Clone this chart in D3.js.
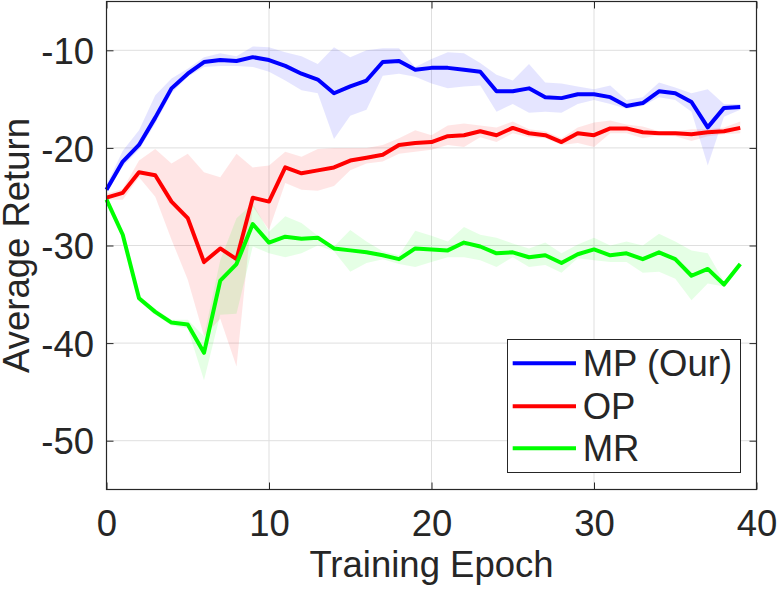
<!DOCTYPE html>
<html>
<head>
<meta charset="utf-8">
<script src="https://cdn.jsdelivr.net/npm/d3@7"></script>
<style>
  body { margin: 0; background: #fff; }
  svg { display: block; }
  text { font-family: "Liberation Sans", Arial, sans-serif; fill: #262626; }
</style>
</head>
<body>
<div id="chart"></div>
<script>
// epochs 0..39
var epochs = d3.range(0, 40);

var xTicks = [0, 10, 20, 30, 40];
var yTicks = [-50, -40, -30, -20, -10];
var seriesNames = ["MP (Our)", "OP", "MR"];

// MP (Our) - blue
var mpMean = [-24.3, -21.4, -19.7, -16.9, -13.9, -12.4, -11.2, -11.0, -11.1, -10.7,
              -11.0, -11.6, -12.4, -13.0, -14.4, -13.7, -13.1, -11.2, -11.1, -12.0,
              -11.8, -11.8, -12.0, -12.2, -14.2, -14.2, -13.9, -14.8, -14.9, -14.5,
              -14.5, -14.8, -15.7, -15.4, -14.2, -14.4, -15.3, -17.9, -15.9, -15.8];
var mpUpper = [-23.8, -20.3, -18.2, -14.6, -12.9, -11.9, -10.7, -10.3, -10.6, -9.6,
               -9.7, -10.2, -10.6, -11.4, -9.7, -10.7, -10.0, -9.8, -9.8, -11.7,
               -10.9, -10.2, -10.3, -11.3, -12.5, -13.1, -11.4, -13.3, -13.4, -13.7,
               -14.0, -13.6, -15.1, -14.8, -13.3, -13.8, -14.4, -14.0, -15.5, -15.5];
var mpLower = [-24.6, -21.9, -20.2, -17.5, -14.4, -12.7, -11.7, -11.6, -11.6, -11.7,
               -12.2, -13.1, -14.1, -14.4, -19.1, -16.7, -16.1, -12.6, -12.4, -12.7,
               -13.4, -13.9, -13.7, -13.6, -16.3, -15.5, -16.4, -16.3, -16.4, -15.5,
               -15.1, -15.5, -16.0, -15.7, -14.8, -15.1, -16.3, -21.8, -16.8, -16.1];

// OP - red
var opMean = [-25.1, -24.6, -22.5, -22.8, -25.5, -27.2, -31.7, -30.3, -31.4, -25.1,
              -25.5, -22.0, -22.6, -22.3, -22.0, -21.3, -21.0, -20.7, -19.7, -19.5,
              -19.4, -18.8, -18.7, -18.3, -18.7, -17.95, -18.5, -18.7, -19.4, -18.5,
              -18.7, -18.0, -18.0, -18.4, -18.5, -18.5, -18.6, -18.4, -18.3, -17.95];
var opUpper = [-24.7, -24.2, -21.3, -20.1, -21.6, -20.6, -22.5, -23.0, -20.6, -22.0,
               -21.8, -20.4, -20.9, -20.1, -20.0, -20.0, -20.0, -19.7, -19.0, -18.2,
               -18.7, -17.7, -17.5, -17.7, -17.9, -17.3, -18.1, -18.3, -19.0, -17.9,
               -17.4, -17.2, -17.6, -17.8, -18.3, -18.3, -18.1, -18.1, -17.9, -17.3];
var opLower = [-25.3, -25.3, -23.0, -25.0, -29.4, -33.5, -39.3, -37.5, -42.4, -26.0,
               -28.4, -23.6, -24.3, -24.4, -23.9, -22.3, -21.6, -21.4, -20.6, -20.4,
               -20.2, -19.7, -19.9, -18.9, -19.4, -18.5, -18.9, -19.0, -19.7, -19.5,
               -19.9, -18.5, -18.5, -19.0, -18.7, -18.8, -19.3, -18.8, -18.6, -18.5];

// MR - green
var mrMean = [-25.3, -28.9, -35.4, -36.8, -37.9, -38.1, -41.0, -33.6, -31.9, -27.8,
              -29.7, -29.1, -29.3, -29.2, -30.3, -30.5, -30.7, -31.0, -31.4, -30.3,
              -30.4, -30.5, -29.7, -30.1, -30.8, -30.7, -31.2, -31.0, -31.8, -30.9,
              -30.4, -31.0, -30.8, -31.4, -30.7, -31.4, -33.1, -32.4, -34.0, -31.9];
var mrUpper = [-25.2, -28.7, -35.1, -36.5, -37.6, -37.6, -39.3, -31.5, -27.2, -25.7,
               -28.6, -27.0, -27.7, -29.0, -30.1, -28.4, -29.6, -30.6, -31.0, -28.5,
               -29.0, -29.6, -28.1, -28.9, -29.2, -29.8, -30.3, -29.7, -30.8, -29.9,
               -29.2, -30.0, -29.6, -30.0, -28.8, -29.6, -30.5, -30.8, -33.7, -31.7];
var mrLower = [-25.4, -29.1, -35.7, -37.1, -38.2, -38.5, -43.8, -37.1, -37.0, -30.1,
               -30.8, -31.2, -30.8, -30.0, -30.6, -32.7, -31.8, -31.4, -31.9, -32.2,
               -31.7, -31.2, -31.2, -31.5, -32.2, -31.2, -32.2, -32.0, -32.8, -31.3,
               -31.5, -31.7, -31.7, -32.8, -32.7, -33.4, -35.6, -33.9, -34.2, -32.1];

var W = 779, H = 589;
var padL = 106.5, padR = 756.5, padT = 1.5, padB = 489.5;
var fontPx = "36.5px";

var svg = d3.select("#chart").append("svg").attr("width", W).attr("height", H);

var x = d3.scaleLinear().domain([0, 40]).range([padL, padR]);
var y = d3.scaleLinear().domain([-55, -5]).range([padB, padT]);

// grid
var grid = svg.append("g").attr("stroke", "#dfdfdf").attr("stroke-width", 1);
xTicks.slice(1, -1).forEach(function(t) {
    grid.append("line").attr("x1", x(t)).attr("x2", x(t)).attr("y1", padT).attr("y2", padB);
});
yTicks.forEach(function(t) {
    grid.append("line").attr("x1", padL).attr("x2", padR).attr("y1", y(t)).attr("y2", y(t));
});

var series = [
    {name: seriesNames[0], color: "#0000ff", mean: mpMean, lo: mpLower, hi: mpUpper},
    {name: seriesNames[1], color: "#ff0000", mean: opMean, lo: opLower, hi: opUpper},
    {name: seriesNames[2], color: "#00ff00", mean: mrMean, lo: mrLower, hi: mrUpper}
];

var area = d3.area()
    .x(function(d) { return x(d.e); })
    .y0(function(d) { return y(d.lo); })
    .y1(function(d) { return y(d.hi); });

var line = d3.line()
    .x(function(d) { return x(d.e); })
    .y(function(d) { return y(d.v); });

series.forEach(function(s) {
    var pts = epochs.map(function(e, i) { return {e: e, lo: s.lo[i], hi: s.hi[i]}; });
    svg.append("path").attr("d", area(pts))
        .attr("fill", s.color).attr("fill-opacity", 0.1).attr("stroke", "none");
});

series.forEach(function(s) {
    var pts = epochs.map(function(e, i) { return {e: e, v: s.mean[i]}; });
    svg.append("path").attr("d", line(pts))
        .attr("fill", "none").attr("stroke", s.color)
        .attr("stroke-width", 4).attr("stroke-linejoin", "round");
});

// axes (ticks inside, all four sides)
var axColor = "#262626";
var gx = svg.append("g").attr("transform", "translate(0," + padB + ")")
    .call(d3.axisBottom(x).tickValues(xTicks).tickSize(-7).tickSizeOuter(0));
gx.selectAll("text").attr("y", 46).attr("dy", 0).style("font-size", fontPx);
var gy = svg.append("g").attr("transform", "translate(" + padL + ",0)")
    .call(d3.axisLeft(y).tickValues(yTicks).tickSize(-7).tickSizeOuter(0)
        .tickFormat(function(d) { return "-" + Math.abs(d); }));
gy.selectAll("text").attr("x", -12.5).attr("dy", "0.36em").style("font-size", fontPx);
var gt = svg.append("g").attr("transform", "translate(0," + padT + ")")
    .call(d3.axisTop(x).tickValues(xTicks).tickSize(-7).tickSizeOuter(0).tickFormat(""));
var gr = svg.append("g").attr("transform", "translate(" + padR + ",0)")
    .call(d3.axisRight(y).tickValues(yTicks).tickSize(-7).tickSizeOuter(0).tickFormat(""));
[gx, gy, gt, gr].forEach(function(g) {
    g.select(".domain").remove();
    g.selectAll("line").attr("stroke", axColor);
    g.attr("font-family", null).attr("font-size", null);
});

svg.append("rect").attr("x", padL).attr("y", padT)
    .attr("width", padR - padL).attr("height", padB - padT)
    .attr("fill", "none").attr("stroke", axColor).attr("stroke-width", 1.2);

// axis labels
svg.append("text").attr("x", (padL + padR) / 2).attr("y", 577)
    .attr("text-anchor", "middle").style("font-size", fontPx).text("Training Epoch");
svg.append("text").attr("transform", "translate(28.5," + (padT + padB) / 2 + ") rotate(-90)")
    .attr("text-anchor", "middle").style("font-size", fontPx).text("Average Return");

// legend
var lg = svg.append("g");
lg.append("rect").attr("x", 507.5).attr("y", 339.5).attr("width", 233).attr("height", 133)
    .attr("fill", "#fff").attr("stroke", axColor).attr("stroke-width", 1);
var rowY = [363.3, 406.3, 448.3];
series.forEach(function(s, i) {
    lg.append("line").attr("x1", 512.7).attr("x2", 576).attr("y1", rowY[i]).attr("y2", rowY[i])
        .attr("stroke", s.color).attr("stroke-width", 4);
    lg.append("text").attr("x", 582.7).attr("y", rowY[i] + 13)
        .style("font-size", fontPx).text(s.name);
});
</script>
</body>
</html>
